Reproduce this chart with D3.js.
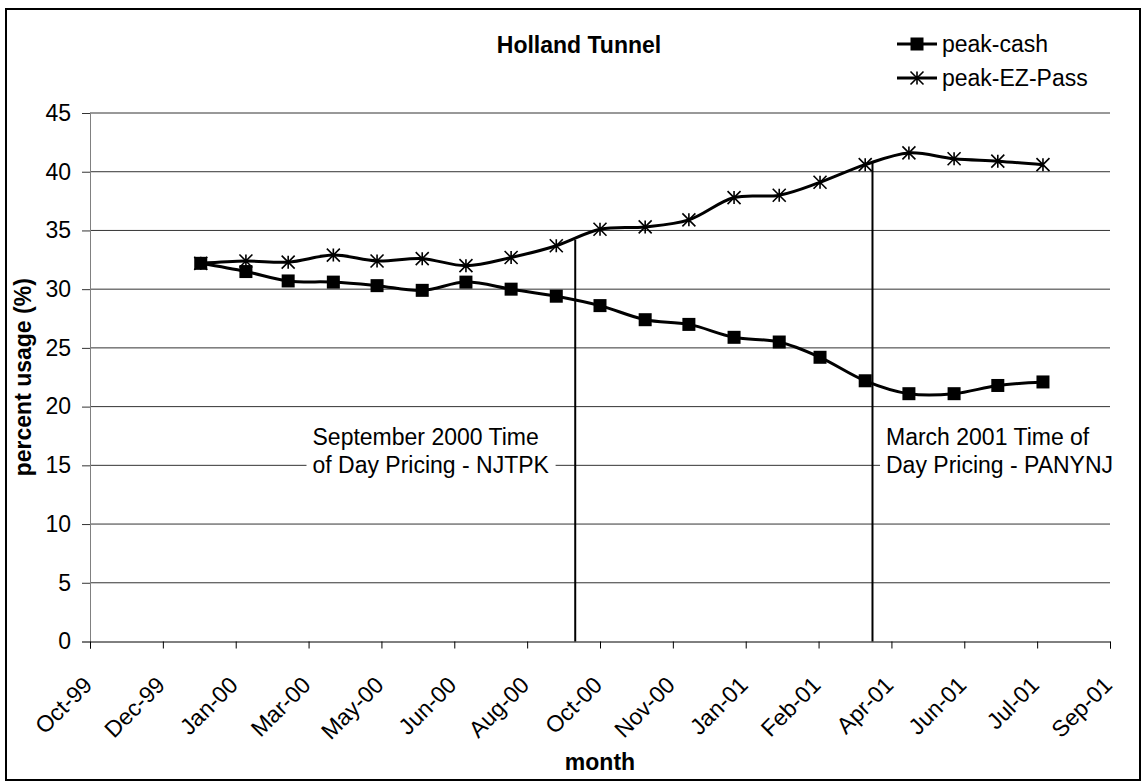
<!DOCTYPE html>
<html>
<head>
<meta charset="utf-8">
<script src="https://cdn.jsdelivr.net/npm/d3@7"></script>
<style>
  html, body { margin: 0; padding: 0; background: #fff; }
  svg { display: block; }
  text { font-family: "Liberation Sans", Arial, sans-serif; fill: #000; }
</style>
</head>
<body>
<svg id="chart" width="1144" height="784"></svg>
<script>
// ---- data ----
const months = ["2000-01-01","2000-02-01","2000-03-01","2000-04-01","2000-05-01","2000-06-01",
  "2000-07-01","2000-08-01","2000-09-01","2000-10-01","2000-11-01","2000-12-01",
  "2001-01-01","2001-02-01","2001-03-01","2001-04-01","2001-05-01","2001-06-01",
  "2001-07-01","2001-08-01"];
const peakCash = [32.2, 31.5, 30.7, 30.6, 30.3, 29.9, 30.6, 30.0, 29.4, 28.6, 27.4, 27.0,
  25.9, 25.5, 24.2, 22.2, 21.1, 21.1, 21.8, 22.1];
const peakEZPass = [32.2, 32.4, 32.3, 32.9, 32.4, 32.6, 32.0, 32.7, 33.7, 35.1, 35.3, 35.9,
  37.8, 38.0, 39.1, 40.6, 41.6, 41.1, 40.9, 40.6];
const seriesNames = ["peak-cash", "peak-EZ-Pass"];
const xStart = "1999-10-17", xEnd = "2001-09-16", xStepDays = 50;
const xTickLabels = ["Oct-99","Dec-99","Jan-00","Mar-00","May-00","Jun-00","Aug-00","Oct-00",
  "Nov-00","Jan-01","Feb-01","Apr-01","Jun-01","Jul-01","Sep-01"];
const yTicks = [0, 5, 10, 15, 20, 25, 30, 35, 40, 45];
const eventDates = ["2000-09-14", "2001-04-06"];
const eventTops = [34.2, 40.9];
const eventLabels = [["September 2000 Time", "of Day Pricing - NJTPK"],
                     ["March 2001 Time of", "Day Pricing - PANYNJ"]];
const titleText = "Holland Tunnel";
const xTitle = "month", yTitle = "percent usage (%)";

// ---- layout ----
const W = 1144, H = 784;
const plot = { left: 90, right: 1110, top: 113, bottom: 641.5 };
const FS = 23;
const svg = d3.select("#chart");

svg.append("rect").attr("x", 6).attr("y", 9).attr("width", 1134).attr("height", 771)
  .attr("fill", "#fff").attr("stroke", "#000").attr("stroke-width", 2);

const parse = d3.utcParse("%Y-%m-%d");
const x = d3.scaleUtc().domain([parse(xStart), parse(xEnd)]).range([plot.left, plot.right]);
const y = d3.scaleLinear().domain([0, 45]).range([plot.bottom, plot.top]);
const tickDates = xTickLabels.map((_, i) => d3.utcDay.offset(parse(xStart), i * xStepDays));

// gridlines
svg.append("g").selectAll("line").data(yTicks.filter(d => d > 0)).join("line")
  .attr("x1", plot.left).attr("x2", plot.right)
  .attr("y1", d => y(d)).attr("y2", d => y(d))
  .attr("stroke", "#333").attr("stroke-width", 1);

// y axis
const yAxis = svg.append("g").attr("transform", `translate(${plot.left},0)`)
  .call(d3.axisLeft(y).tickValues(yTicks).tickSize(8).tickPadding(11).tickFormat(d3.format("d")));
yAxis.select(".domain").attr("stroke", "#808080");
yAxis.selectAll(".tick line").attr("stroke", "#333");
yAxis.selectAll("text").attr("font-size", FS).attr("font-family", null);

// x axis
const xAxis = svg.append("g").attr("transform", `translate(0,${plot.bottom})`)
  .call(d3.axisBottom(x).tickValues(tickDates).tickSize(7).tickFormat((d, i) => xTickLabels[i]));
xAxis.select(".domain").attr("stroke", "#000");
xAxis.selectAll(".tick line").attr("stroke", "#000");
xAxis.selectAll("text")
  .attr("font-size", FS).attr("font-family", null)
  .attr("text-anchor", "end")
  .attr("dy", null).attr("y", 0)
  .attr("transform", "translate(3,45) rotate(-45)");

// event lines
const evG = svg.append("g");
eventDates.forEach((d, i) => {
  evG.append("line")
    .attr("x1", x(parse(d))).attr("x2", x(parse(d)))
    .attr("y1", y(0)).attr("y2", y(eventTops[i]))
    .attr("stroke", "#000").attr("stroke-width", 2);
});

// annotations
const annPos = [{ x: 312.5, y: 445 }, { x: 886, y: 445 }];
eventLabels.forEach((lines, i) => {
  const g = svg.append("g");
  const bg = g.append("rect").attr("fill", "#fff");
  const t = g.append("text").attr("font-size", FS);
  lines.forEach((ln, j) => {
    t.append("tspan").attr("x", annPos[i].x).attr("y", annPos[i].y + j * 28).text(ln);
  });
  const bb = t.node().getBBox();
  bg.attr("x", bb.x - 6).attr("y", bb.y - 2).attr("width", bb.width + 12).attr("height", bb.height + 4);
});

// series
const dates = months.map(parse);
const line = d3.line().x(d => x(d[0])).y(d => y(d[1])).curve(d3.curveCatmullRom.alpha(0.5));
const cashData = dates.map((d, i) => [d, peakCash[i]]);
const ezData = dates.map((d, i) => [d, peakEZPass[i]]);

function starPath(cx, cy, r) {
  return `M${cx},${cy - r}L${cx},${cy + r}` +
         `M${cx - r},${cy - r}L${cx + r},${cy + r}` +
         `M${cx - r},${cy + r}L${cx + r},${cy - r}`;
}

svg.append("path").datum(ezData).attr("d", line)
  .attr("fill", "none").attr("stroke", "#000").attr("stroke-width", 3);
svg.append("path").datum(cashData).attr("d", line)
  .attr("fill", "none").attr("stroke", "#000").attr("stroke-width", 3);

svg.append("g").selectAll("path").data(ezData).join("path")
  .attr("d", d => starPath(x(d[0]), y(d[1]), 6.5))
  .attr("stroke", "#000").attr("stroke-width", 1.6).attr("fill", "none");
svg.append("g").selectAll("rect").data(cashData).join("rect")
  .attr("x", d => x(d[0]) - 6.5).attr("y", d => y(d[1]) - 6.5)
  .attr("width", 13).attr("height", 13).attr("fill", "#000");

// title
svg.append("text").attr("x", 579).attr("y", 53).attr("text-anchor", "middle")
  .attr("font-size", FS).attr("font-weight", "bold").text(titleText);

// axis titles
svg.append("text").attr("x", 600).attr("y", 770).attr("text-anchor", "middle")
  .attr("font-size", FS).attr("font-weight", "bold").text(xTitle);
svg.append("text").attr("transform", `translate(31,${(plot.top + plot.bottom) / 2}) rotate(-90)`)
  .attr("text-anchor", "middle").attr("font-size", FS).attr("font-weight", "bold").text(yTitle);

// legend
const leg = svg.append("g");
const legY = [44, 78];
seriesNames.forEach((name, i) => {
  leg.append("line").attr("x1", 897).attr("x2", 937).attr("y1", legY[i]).attr("y2", legY[i])
    .attr("stroke", "#000").attr("stroke-width", 3);
  if (i === 0) {
    leg.append("rect").attr("x", 917 - 6.5).attr("y", legY[i] - 6.5).attr("width", 13).attr("height", 13).attr("fill", "#000");
  } else {
    leg.append("path").attr("d", starPath(917, legY[i], 6.5)).attr("stroke", "#000").attr("stroke-width", 1.6).attr("fill", "none");
  }
  leg.append("text").attr("x", 942).attr("y", legY[i] + 8).attr("font-size", FS).text(name);
});
</script>
</body>
</html>
